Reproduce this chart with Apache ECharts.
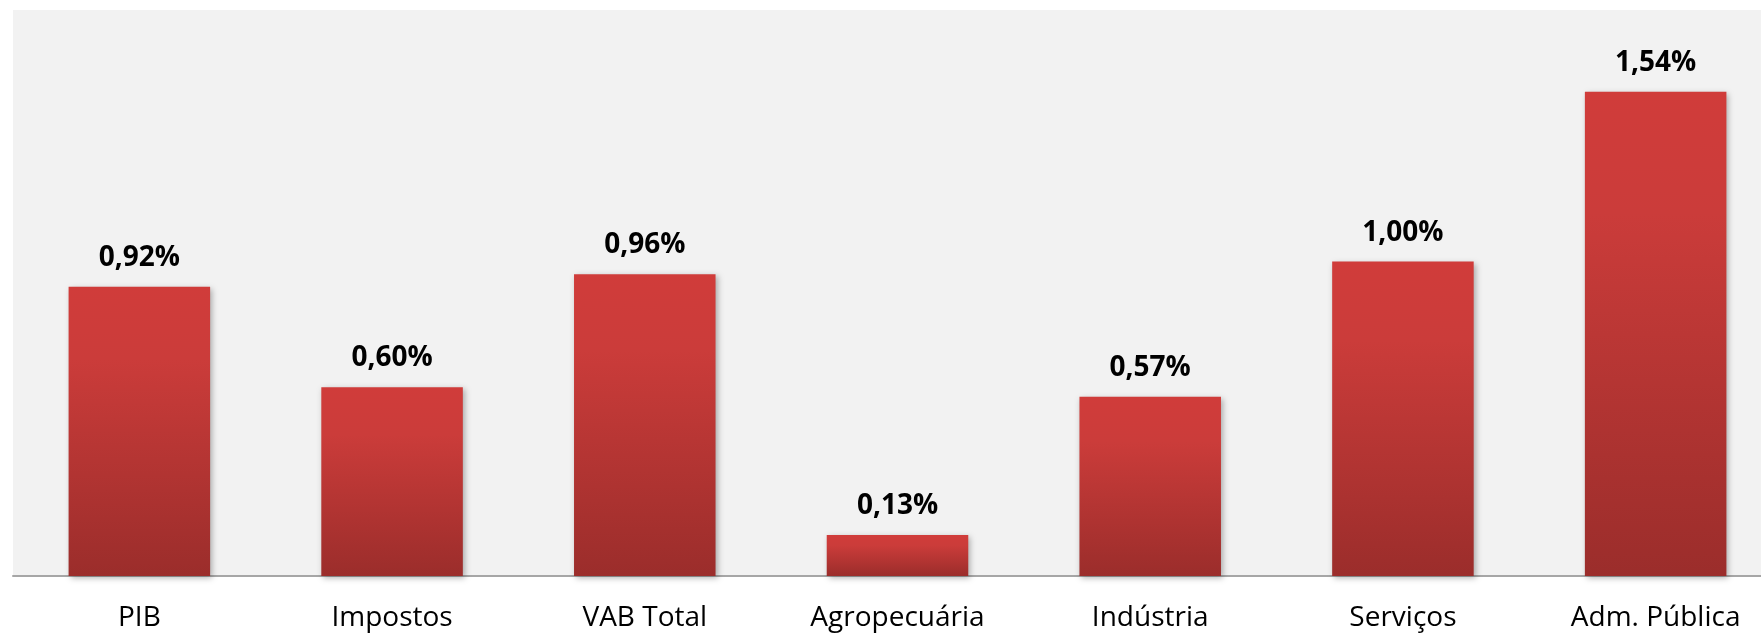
<!DOCTYPE html>
<html>
<head>
<meta charset="utf-8">
<script src="https://cdn.jsdelivr.net/npm/echarts@6/dist/echarts.min.js"></script>
<style>
	html, body { margin: 0; padding: 0; background: #fff; }
	#chart { width: 1761px; height: 634px; }
</style>
</head>
<body>
<div id="chart"></div>
<script>
	// categorias e valores (%)
	var categories = ['PIB', 'Impostos', 'VAB Total', 'Agropecuária', 'Indústria', 'Serviços', 'Adm. Pública'];
	var values = [0.92, 0.60, 0.96, 0.13, 0.57, 1.00, 1.54];

	var chart = echarts.init(document.getElementById('chart'));

	chart.setOption({
		animation: false,
		grid: {
			left: 13,
			width: 1769,
			top: 10,
			bottom: 58,
			outerBoundsMode: 'none',
			show: true,
			backgroundColor: '#f2f2f2',
			borderWidth: 0
		},
		xAxis: {
			type: 'category',
			data: categories,
			axisTick: { show: false },
			axisLine: { lineStyle: { color: '#a6a6a6', width: 2 } },
			axisLabel: {
				color: '#000',
				fontFamily: 'Open Sans',
				fontSize: 28,
				margin: 28
			}
		},
		yAxis: {
			type: 'value',
			min: 0,
			max: 1.8,
			show: false,
			splitLine: { show: false }
		},
		series: [{
			type: 'bar',
			data: values,
			barCategoryGap: '44%',
			itemStyle: {
				color: new echarts.graphic.LinearGradient(0, 0, 0, 1, [
					{ offset: 0, color: '#d03c3a' },
					{ offset: 0.25, color: '#cb3c3a' },
					{ offset: 1, color: '#9b2d2b' }
				]),
				shadowBlur: 6,
				shadowColor: 'rgba(0,0,0,0.3)',
				shadowOffsetX: 2,
				shadowOffsetY: 2
			},
			label: {
				show: true,
				position: 'top',
				distance: 15,
				color: '#000',
				fontFamily: 'Open Sans',
				fontWeight: 'bold',
				fontSize: 28,
				formatter: function (p) {
					return p.value.toFixed(2).replace('.', ',') + '%';
				}
			}
		}]
	});
</script>
</body>
</html>
